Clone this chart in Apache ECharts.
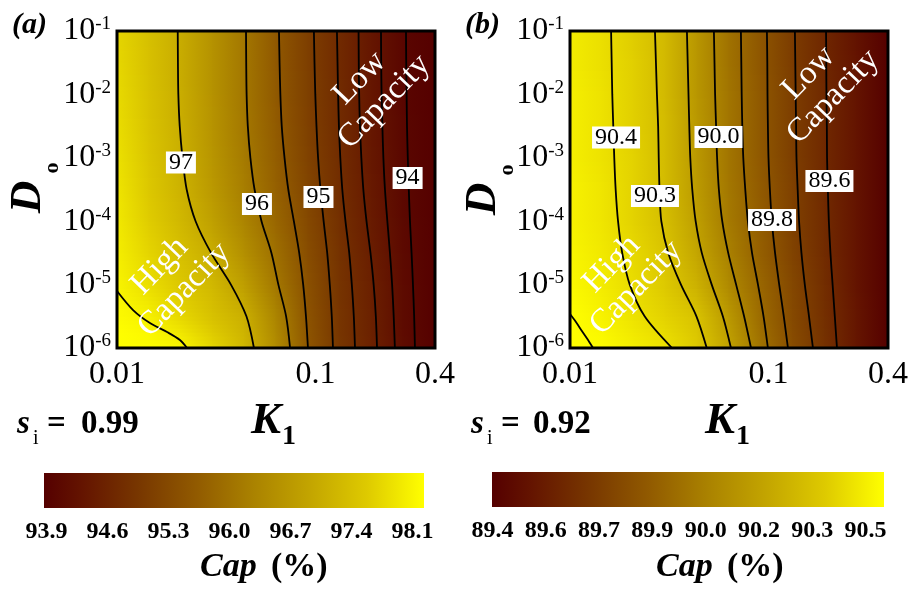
<!DOCTYPE html>
<html><head><meta charset="utf-8">
<script src="https://cdn.jsdelivr.net/npm/echarts@6/dist/echarts.min.js"></script>
<style>html,body{margin:0;padding:0;background:#fff}#c{width:911px;height:592px}</style>
</head><body><div id="c"></div>
<script>
// ---------- data ----------
const xTickValues = [0.01, 0.1, 0.4];
const xTickLabels = ['0.01', '0.1', '0.4'];
const yTickExponents = [-6, -5, -4, -3, -2, -1];
const cbTicksA = ['93.9','94.6','95.3','96.0','96.7','97.4','98.1'];
const cbTicksB = ['89.4','89.6','89.7','89.9','90.0','90.2','90.3','90.5'];
const capRangeA = [93.9, 98.1];
const capRangeB = [89.4, 90.5];
// grid of log10(K1) and log10(D0) where Cap was read
const gridLogK = [-2, -1.84, -1.68, -1.52, -1.36, -1.2, -1.04, -0.88, -0.72, -0.56, -0.398];
const gridLogD = [-6, -5.5, -5, -4.5, -4, -3.5, -3, -2.5, -2, -1.5, -1];
// Cap (%) read at grid points, rows bottom (D0=1e-6) to top (D0=1e-1)
const capA = [
 [98.15, 98.08, 98.01, 97.62, 97.15, 96.39, 95.51, 94.93, 94.56, 94.15, 93.90],
 [98.05, 97.93, 97.63, 97.32, 97.02, 96.26, 95.46, 94.91, 94.55, 94.13, 93.90],
 [97.97, 97.70, 97.43, 97.16, 96.72, 96.05, 95.41, 94.89, 94.53, 94.12, 93.90],
 [97.90, 97.60, 97.29, 96.98, 96.45, 95.92, 95.35, 94.86, 94.49, 94.10, 93.90],
 [97.84, 97.50, 97.16, 96.75, 96.26, 95.78, 95.27, 94.82, 94.44, 94.08, 93.90],
 [97.79, 97.43, 97.07, 96.62, 96.15, 95.68, 95.20, 94.78, 94.41, 94.06, 93.90],
 [97.74, 97.38, 97.02, 96.56, 96.09, 95.63, 95.15, 94.76, 94.39, 94.05, 93.90],
 [97.70, 97.35, 96.99, 96.52, 96.05, 95.59, 95.12, 94.74, 94.37, 94.04, 93.90],
 [97.66, 97.32, 96.97, 96.50, 96.04, 95.56, 95.11, 94.73, 94.36, 94.03, 93.90],
 [97.63, 97.30, 96.96, 96.49, 96.03, 95.55, 95.10, 94.72, 94.36, 94.03, 93.90],
 [97.60, 97.29, 96.96, 96.49, 96.03, 95.55, 95.09, 94.72, 94.36, 94.03, 93.90]
];
const capB = [
 [90.55, 90.49, 90.45, 90.41, 90.33, 90.16, 89.94, 89.78, 89.65, 89.52, 89.40],
 [90.50, 90.46, 90.41, 90.36, 90.30, 90.11, 89.91, 89.76, 89.64, 89.52, 89.40],
 [90.48, 90.44, 90.39, 90.33, 90.22, 90.04, 89.89, 89.75, 89.63, 89.51, 89.40],
 [90.47, 90.43, 90.38, 90.31, 90.17, 90.00, 89.86, 89.73, 89.62, 89.51, 89.40],
 [90.46, 90.42, 90.36, 90.28, 90.14, 89.97, 89.85, 89.72, 89.62, 89.51, 89.40],
 [90.46, 90.42, 90.36, 90.27, 90.12, 89.96, 89.84, 89.72, 89.61, 89.51, 89.40],
 [90.45, 90.41, 90.36, 90.27, 90.11, 89.95, 89.83, 89.71, 89.61, 89.51, 89.40],
 [90.45, 90.41, 90.35, 90.27, 90.11, 89.95, 89.83, 89.71, 89.61, 89.51, 89.40],
 [90.45, 90.41, 90.35, 90.26, 90.10, 89.95, 89.83, 89.71, 89.61, 89.51, 89.40],
 [90.44, 90.40, 90.35, 90.26, 90.10, 89.94, 89.82, 89.70, 89.60, 89.51, 89.40],
 [90.44, 90.40, 90.34, 90.26, 90.10, 89.94, 89.82, 89.70, 89.60, 89.50, 89.40]
];
// contour lines: log10(K1) where each contour crosses the gridLogD rows (bottom to top)
const contA97   = [-1.310, -1.348, -1.426, -1.526, -1.604, -1.649, -1.670, -1.684, -1.691, -1.693, -1.694];
const contA96   = [-1.128, -1.148, -1.187, -1.222, -1.272, -1.307, -1.328, -1.341, -1.347, -1.349, -1.350];
const contA955  = [-1.038, -1.048, -1.062, -1.082, -1.109, -1.137, -1.156, -1.170, -1.177, -1.181, -1.184];
const contA95   = [-0.912, -0.918, -0.928, -0.941, -0.959, -0.975, -0.987, -0.995, -1.001, -1.005, -1.008];
const contA9475 = [-0.801, -0.807, -0.817, -0.830, -0.849, -0.865, -0.875, -0.882, -0.886, -0.889, -0.892];
const contA945  = [-0.690, -0.696, -0.707, -0.723, -0.743, -0.759, -0.769, -0.776, -0.780, -0.782, -0.783];
const contA9425 = [-0.600, -0.606, -0.614, -0.625, -0.638, -0.650, -0.658, -0.663, -0.667, -0.669, -0.670];
const contA94   = [-0.499, -0.503, -0.509, -0.516, -0.524, -0.530, -0.535, -0.539, -0.541, -0.543, -0.544];
const contA98   = [[-2.0, -5.10], [-1.919, -5.401], [-1.834, -5.606], [-1.748, -5.748], [-1.683, -5.874], [-1.647, -6.0]];
const contB904  = [-1.486, -1.624, -1.699, -1.737, -1.758, -1.770, -1.777, -1.782, -1.787, -1.790, -1.793];
const contB903  = [-1.311, -1.363, -1.441, -1.505, -1.540, -1.549, -1.553, -1.556, -1.562, -1.567, -1.572];
const contB9015 = [-1.189, -1.230, -1.286, -1.336, -1.367, -1.384, -1.394, -1.399, -1.403, -1.407, -1.411];
const contB900  = [-1.088, -1.123, -1.163, -1.203, -1.233, -1.250, -1.259, -1.264, -1.269, -1.272, -1.275];
const contB899  = [-1.003, -1.025, -1.053, -1.083, -1.104, -1.117, -1.127, -1.132, -1.135, -1.137, -1.139];
const contB898  = [-0.902, -0.923, -0.946, -0.967, -0.983, -0.993, -1.000, -1.003, -1.005, -1.006, -1.008];
const contB897  = [-0.776, -0.796, -0.817, -0.834, -0.846, -0.853, -0.859, -0.861, -0.863, -0.865, -0.867];
const contB896  = [-0.655, -0.666, -0.677, -0.688, -0.696, -0.701, -0.705, -0.706, -0.708, -0.709, -0.710];
const contB905  = [[-2.0, -5.464], [-1.970, -5.590], [-1.940, -5.732], [-1.909, -5.874], [-1.884, -6.0]];
// contour labels: text, log10(K1), log10(D0)
const labelsA = [['97', -1.678, -3.074], ['96', -1.295, -3.729], ['95', -0.985, -3.618], ['94', -0.536, -3.319]];
const labelsB = [['90.4', -1.768, -2.680], ['90.3', -1.572, -3.603], ['90.0', -1.252, -2.672], ['89.8', -0.982, -3.981], ['89.6', -0.693, -3.366]];
const notesA = [['High\nCapacity', -1.723, -4.896], ['Low\nCapacity', -0.715, -1.931]];
const notesB = [['High\nCapacity', -1.728, -4.864], ['Low\nCapacity', -0.735, -1.852]];

// ---------- style ----------
const serif = '"Liberation Serif","Times New Roman",serif';
const cmapStops = [[0,[85,0,0]],[0.1,[100,20,0]],[0.25,[120,55,0]],[0.4,[145,90,0]],[0.55,[170,130,0]],[0.7,[195,165,0]],[0.85,[222,202,0]],[1,[255,255,0]]];
function cmapT(t){
  t = Math.max(0, Math.min(1, t));
  for (let k = 1; k < cmapStops.length; k++) {
    if (t <= cmapStops[k][0]) {
      const a = cmapStops[k-1], b = cmapStops[k];
      const f = (t - a[0]) / (b[0] - a[0]);
      const c = a[1].map((v, q) => Math.round(v + (b[1][q] - v) * f));
      return 'rgb(' + c.join(',') + ')';
    }
  }
  return 'rgb(255,255,0)';
}
function cmap(v, range){ return cmapT((v - range[0]) / (range[1] - range[0])); }

function heatSeries(cap, range, idx){
  const data = [];
  for (let j = 0; j < gridLogD.length - 1; j++)
    for (let i = 0; i < gridLogK.length - 1; i++)
      data.push([gridLogK[i], gridLogD[j], i, j]);
  return {
    type: 'custom', xAxisIndex: idx, yAxisIndex: idx, z: 1, silent: true, clip: true, data,
    renderItem(params, api){
      const i = api.value(2), j = api.value(3);
      const p0 = api.coord([gridLogK[i], gridLogD[j]]);
      const p1 = api.coord([gridLogK[i+1], gridLogD[j+1]]);
      const N = 8, children = [];
      for (let s = 0; s < N; s++){
        const t = (s + 0.5) / N;
        const vL = cap[j][i] + (cap[j+1][i] - cap[j][i]) * t;
        const vR = cap[j][i+1] + (cap[j+1][i+1] - cap[j][i+1]) * t;
        const yBot = p0[1] + (p1[1] - p0[1]) * s / N;
        const yTop = p0[1] + (p1[1] - p0[1]) * (s + 1) / N;
        children.push({type: 'rect',
          shape: {x: p0[0] - 0.5, y: yTop - 0.5, width: p1[0] - p0[0] + 1, height: yBot - yTop + 1},
          style: {fill: new echarts.graphic.LinearGradient(0, 0, 1, 0, [{offset: 0, color: cmap(vL, range)}, {offset: 1, color: cmap(vR, range)}])}});
      }
      return {type: 'group', children};
    }
  };
}
function rowLine(arr){ return arr.map((k, r) => [k, gridLogD[r]]); }
function contourSeries(data, idx){
  return {type: 'line', xAxisIndex: idx, yAxisIndex: idx, data, smooth: 0.3, symbol: 'none', silent: true, clip: true,
    z: 3, lineStyle: {color: '#000', width: 1.8, opacity: 1}};
}
function labelSeries(list, idx){
  return {type: 'scatter', xAxisIndex: idx, yAxisIndex: idx, symbolSize: 1, silent: true, z: 5,
    itemStyle: {color: 'rgba(0,0,0,0)', opacity: 1},
    data: list.map(l => ({name: l[0], value: [l[1], l[2]]})),
    label: {show: true, position: 'inside', formatter: '{b}', fontFamily: serif, fontSize: 24, color: '#000', opacity: 1,
      backgroundColor: '#ffffff', padding: [1, 3, 0, 3], lineHeight: 21}};
}
function noteSeries(list, idx){
  return {type: 'scatter', xAxisIndex: idx, yAxisIndex: idx, symbolSize: 1, silent: true, z: 4,
    itemStyle: {color: 'rgba(0,0,0,0)', opacity: 1},
    data: list.map(l => ({name: l[0], value: [l[1], l[2]]})),
    label: {show: true, position: 'inside', formatter: '{b}', rotate: 46, fontFamily: serif, fontSize: 33,
      lineHeight: 34, color: '#ffffff', opacity: 1, align: 'center'}};
}
function borderSeries(idx){
  return {type: 'custom', xAxisIndex: idx, yAxisIndex: idx, z: 10, silent: true, data: [[gridLogK[0], gridLogD[0]]],
    renderItem(params){
      const cs = params.coordSys;
      return {type: 'rect', shape: {x: cs.x, y: cs.y, width: cs.width, height: cs.height},
        style: {fill: 'none', stroke: '#000', lineWidth: 3}};
    }};
}
function mainX(idx){
  return {type: 'value', gridIndex: idx, min: Math.log10(xTickValues[0]), max: Math.log10(xTickValues[xTickValues.length-1]),
    axisLine: {show: false}, axisTick: {show: false}, splitLine: {show: false},
    axisLabel: {customValues: xTickValues.map(Math.log10), margin: 11, fontFamily: serif, fontSize: 32, color: '#000',
      formatter: v => { const k = xTickValues.findIndex(x => Math.abs(Math.log10(x) - v) < 1e-6); return k >= 0 ? xTickLabels[k] : ''; }}};
}
function mainY(idx){
  return {type: 'value', gridIndex: idx, min: yTickExponents[0], max: yTickExponents[yTickExponents.length-1], interval: 1,
    axisLine: {show: false}, axisTick: {show: false}, splitLine: {show: false},
    axisLabel: {margin: 6, color: '#000', formatter: v => '{b|10}{s|' + v + '}',
      rich: {b: {fontFamily: serif, fontSize: 32, lineHeight: 32, color: '#000'},
             s: {fontFamily: serif, fontSize: 19, lineHeight: 19, verticalAlign: 'top', color: '#000'}}}};
}
function cbX(idx, ticks){
  return {type: 'category', gridIndex: idx, data: ticks, boundaryGap: false,
    axisLine: {show: false}, axisTick: {show: false}, splitLine: {show: false},
    axisLabel: {interval: 0, margin: 12, fontFamily: serif, fontSize: 24, fontWeight: 'bold', color: '#000'}};
}
function cbY(idx){ return {type: 'value', gridIndex: idx, show: false}; }
function cbGradient(){ return new echarts.graphic.LinearGradient(0, 0, 1, 0, cmapStops.map(s => ({offset: s[0], color: cmapT(s[0])}))); }
function txt(x, y, text, font, opts){
  return Object.assign({type: 'text', x, y, z: 20, silent: true,
    style: {text, font, fill: '#000', align: 'left', verticalAlign: 'middle', textAlign: 'left', textVerticalAlign: 'middle'}}, opts || {});
}
function ctxt(x, y, text, font, rot){
  const o = txt(x, y, text, font, rot ? {rotation: rot} : {});
  o.style.align = 'center'; o.style.textAlign = 'center';
  return o;
}

const chart = echarts.init(document.getElementById('c'), null, {renderer: 'canvas'});
chart.setOption({
  animation: false,
  backgroundColor: '#fff',
  grid: [
    {left: 117, top: 31, width: 318, height: 317},
    {left: 570, top: 31, width: 318, height: 317},
    {left: 46.5, top: 473, width: 366, height: 35},
    {left: 492.5, top: 472, width: 373, height: 35}
  ],
  xAxis: [mainX(0), mainX(1), cbX(2, cbTicksA), cbX(3, cbTicksB)],
  yAxis: [mainY(0), mainY(1), cbY(2), cbY(3)],
  series: [
    heatSeries(capA, capRangeA, 0),
    heatSeries(capB, capRangeB, 1),
    contourSeries(contA98, 0),
    contourSeries(rowLine(contA97), 0), contourSeries(rowLine(contA96), 0), contourSeries(rowLine(contA955), 0),
    contourSeries(rowLine(contA95), 0), contourSeries(rowLine(contA9475), 0), contourSeries(rowLine(contA945), 0),
    contourSeries(rowLine(contA9425), 0), contourSeries(rowLine(contA94), 0),
    contourSeries(contB905, 1),
    contourSeries(rowLine(contB904), 1), contourSeries(rowLine(contB903), 1), contourSeries(rowLine(contB9015), 1),
    contourSeries(rowLine(contB900), 1), contourSeries(rowLine(contB899), 1), contourSeries(rowLine(contB898), 1),
    contourSeries(rowLine(contB897), 1), contourSeries(rowLine(contB896), 1),
    noteSeries(notesA, 0), noteSeries(notesB, 1),
    labelSeries(labelsA, 0), labelSeries(labelsB, 1),
    borderSeries(0), borderSeries(1)
  ],
  graphic: [
    {type: 'rect', shape: {x: 44, y: 473, width: 380, height: 35}, style: {fill: cbGradient()}, silent: true},
    {type: 'rect', shape: {x: 492, y: 472, width: 392, height: 35}, style: {fill: cbGradient()}, silent: true},
    txt(12, 25, '(a)', 'italic bold 30px ' + serif),
    txt(465, 25, '(b)', 'italic bold 30px ' + serif),
    ctxt(266, 421, 'K', 'italic bold 45px ' + serif),
    ctxt(289, 437, '1', 'bold 28px ' + serif),
    ctxt(720, 421, 'K', 'italic bold 45px ' + serif),
    ctxt(743, 437, '1', 'bold 28px ' + serif),
    ctxt(28, 197, 'D', 'italic bold 45px ' + serif, Math.PI / 2),
    ctxt(52, 168, 'o', 'bold 22px ' + serif, Math.PI / 2),
    ctxt(483, 199, 'D', 'italic bold 45px ' + serif, Math.PI / 2),
    ctxt(507, 170, 'o', 'bold 22px ' + serif, Math.PI / 2),
    txt(17, 424, 's', 'italic bold 33px ' + serif),
    txt(33, 439, 'i', '20px ' + serif),
    txt(47, 424, '=', 'bold 33px ' + serif),
    txt(81, 424, '0.99', 'bold 33px ' + serif),
    txt(471, 424, 's', 'italic bold 33px ' + serif),
    txt(487, 439, 'i', '20px ' + serif),
    txt(501, 424, '=', 'bold 33px ' + serif),
    txt(533, 424, '0.92', 'bold 33px ' + serif),
    txt(200, 567, 'Cap', 'italic bold 34px ' + serif),
    txt(271, 567, '(%)', 'bold 34px ' + serif),
    txt(656, 567, 'Cap', 'italic bold 34px ' + serif),
    txt(727, 567, '(%)', 'bold 34px ' + serif)
  ]
});
</script>
</body></html>
